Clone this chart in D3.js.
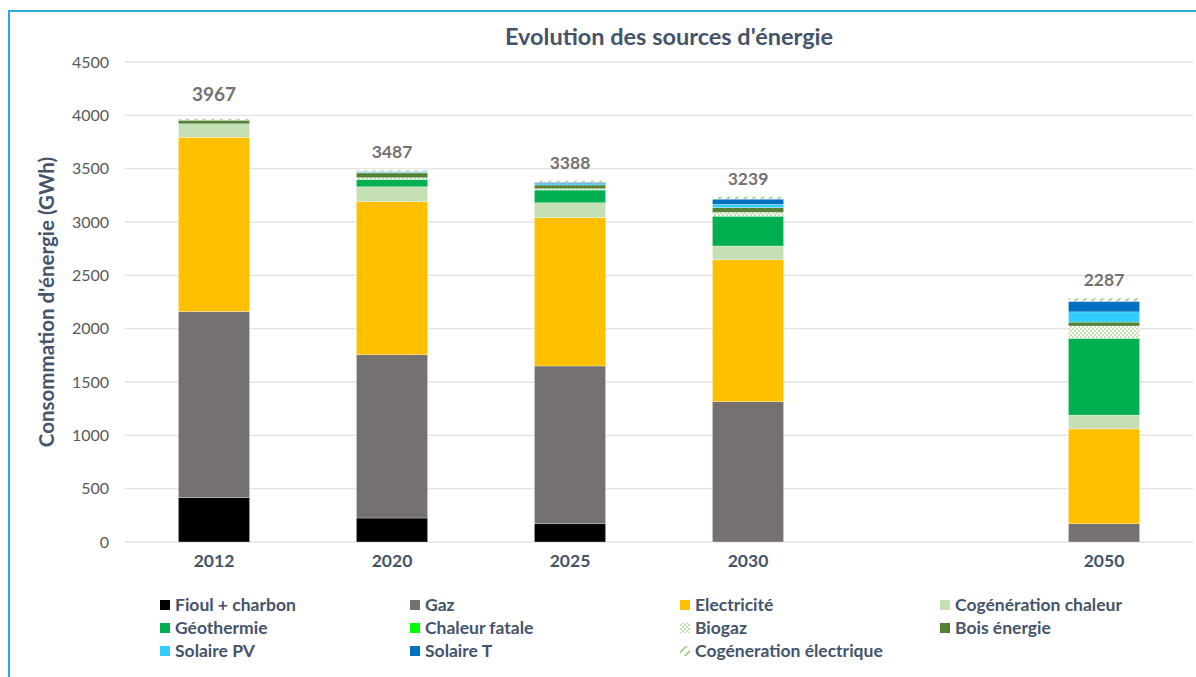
<!DOCTYPE html>
<html>
<head>
<meta charset="utf-8">
<script src="https://cdn.jsdelivr.net/npm/d3@7"></script>
<style>
  body { margin: 0; background: #fff; }
  svg { display: block; font-family: Lato, "Noto Sans", sans-serif; }
</style>
</head>
<body>
<div id="chart"></div>
<script>
// years shown, plus an empty slot between 2030 and 2050
const years = ["2012", "2020", "2025", "2030", "2050"]
const slots = ["2012", "2020", "2025", "2030", "gap", "2050"]

// GWh per source, one value per year
const fioul         = [415, 225, 170, 0, 0]
const gaz           = [1745, 1530, 1480, 1315, 170]
const electricite   = [1635, 1435, 1390, 1330, 890]
const cogenChaleur  = [125, 140, 140, 130, 130]
const geothermie    = [0, 70, 120, 280, 720]
const chaleurFatale = [0, 0, 0, 0, 0]
const biogaz        = [0, 15, 12, 35, 115]
const boisEnergie   = [35, 45, 35, 45, 37]
const solairePV     = [0, 8, 12, 30, 95]
const solaireT      = [0, 7, 14, 50, 100]
const cogenElec     = [12, 12, 15, 24, 30]

const yTicks = [0, 500, 1000, 1500, 2000, 2500, 3000, 3500, 4000, 4500]

const series = [
  { name: "Fioul + charbon", values: fioul, fill: "#000000" },
  { name: "Gaz", values: gaz, fill: "#767171" },
  { name: "Electricité", values: electricite, fill: "#FFC000" },
  { name: "Cogénération chaleur", values: cogenChaleur, fill: "#C5E0B4" },
  { name: "Géothermie", values: geothermie, fill: "#00B050" },
  { name: "Chaleur fatale", values: chaleurFatale, fill: "#00FF00" },
  { name: "Biogaz", values: biogaz, fill: "url(#dots)" },
  { name: "Bois énergie", values: boisEnergie, fill: "#548235" },
  { name: "Solaire PV", values: solairePV, fill: "#33CCFF" },
  { name: "Solaire T", values: solaireT, fill: "#0070C0" },
  { name: "Cogéneration électrique", values: cogenElec, fill: "url(#hatch)" }
]

const width = 1196
const height = 677
const margin = { left: 125, right: 3, top: 62, bottom: 135 }

const svg = d3.select("#chart").append("svg")
  .attr("width", width)
  .attr("height", height)

// patterns for Biogaz and Cogéneration électrique
const defs = svg.append("defs")
const dots = defs.append("pattern")
  .attr("id", "dots")
  .attr("patternUnits", "userSpaceOnUse")
  .attr("width", 4).attr("height", 4)
dots.append("rect").attr("width", 4).attr("height", 4).attr("fill", "#fff")
dots.append("circle").attr("cx", 1).attr("cy", 1).attr("r", 0.9).attr("fill", "#A9D18E")
dots.append("circle").attr("cx", 3).attr("cy", 3).attr("r", 0.9).attr("fill", "#A9D18E")

const hatch = defs.append("pattern")
  .attr("id", "hatch")
  .attr("patternUnits", "userSpaceOnUse")
  .attr("width", 6).attr("height", 6)
  .attr("patternTransform", "rotate(45)")
hatch.append("rect").attr("width", 6).attr("height", 6).attr("fill", "#fff")
hatch.append("rect").attr("width", 2).attr("height", 6).attr("fill", "#A9D18E")

// outer frame (only top and left visible)
svg.append("path")
  .attr("d", `M9,${height + 5}V11H${width + 5}`)
  .attr("fill", "none")
  .attr("stroke", "#29ABE2")
  .attr("stroke-width", 2)

const x = d3.scaleBand()
  .domain(slots)
  .range([margin.left, width - margin.right])
  .paddingInner(0.6)
  .paddingOuter(0.3)

const y = d3.scaleLinear()
  .domain([0, 4500])
  .range([height - margin.bottom, margin.top])

// gridlines
svg.append("g")
  .selectAll("line")
  .data(yTicks)
  .enter().append("line")
  .attr("x1", margin.left)
  .attr("x2", width - margin.right)
  .attr("y1", d => y(d))
  .attr("y2", d => y(d))
  .attr("stroke", "#E3E3E3")
  .attr("stroke-width", 1.3)

// y axis labels
const yAxis = d3.axisLeft(y).tickValues(yTicks).tickSize(0).tickPadding(16)
  .tickFormat(d3.format("d"))
svg.append("g")
  .attr("transform", `translate(${margin.left},0)`)
  .call(yAxis)
  .call(g => g.select(".domain").remove())
  .call(g => g.selectAll("text")
    .attr("fill", "#595959")
    .style("font-size", "16px")
    .style("font-family", "Lato, 'Noto Sans', sans-serif"))

// x axis labels
const xAxis = d3.axisBottom(x).tickSize(0).tickPadding(13)
  .tickFormat(d => d === "gap" ? "" : d)
svg.append("g")
  .attr("transform", `translate(0,${height - margin.bottom})`)
  .call(xAxis)
  .call(g => g.select(".domain").remove())
  .call(g => g.selectAll("text")
    .attr("fill", "#44546A")
    .style("font-size", "17.5px")
    .style("font-weight", "bold")
    .style("font-family", "Lato, 'Noto Sans', sans-serif"))

// stacked bars
const rows = years.map((yr, i) => {
  const row = { year: yr }
  series.forEach(s => { row[s.name] = s.values[i] })
  return row
})
const stack = d3.stack().keys(series.map(s => s.name))(rows)

svg.append("g")
  .selectAll("g")
  .data(stack)
  .enter().append("g")
  .attr("fill", (d, i) => series[i].fill)
  .selectAll("rect")
  .data(d => d.filter(p => p[1] > p[0]))
  .enter().append("rect")
  .attr("x", d => x(d.data.year))
  .attr("width", x.bandwidth())
  .attr("y", d => y(d[1]))
  .attr("height", d => y(d[0]) - y(d[1]))
  .attr("stroke", "#fff")
  .attr("stroke-width", 0.3)

// totals
const totals = years.map((yr, i) => ({ year: yr, total: d3.sum(series, s => s.values[i]) }))
svg.append("g")
  .selectAll("text")
  .data(totals)
  .enter().append("text")
  .attr("x", d => x(d.year) + x.bandwidth() / 2)
  .attr("y", d => y(d.total) - (d.year === "2012" ? 18 : 12))
  .attr("text-anchor", "middle")
  .attr("fill", "#767171")
  .style("font-weight", "bold")
  .style("font-size", d => d.year === "2012" ? "19px" : "17.5px")
  .text(d => d.total)

// title
svg.append("text")
  .attr("x", 669)
  .attr("y", 45)
  .attr("text-anchor", "middle")
  .attr("fill", "#44546A")
  .style("font-weight", "bold")
  .style("font-size", "23.5px")
  .text("Evolution des sources d'énergie")

// y axis title
svg.append("text")
  .attr("transform", `translate(54,${y(2250)}) rotate(-90)`)
  .attr("text-anchor", "middle")
  .attr("fill", "#44546A")
  .style("font-weight", "bold")
  .style("font-size", "20.5px")
  .text("Consommation d'énergie (GWh)")

// legend, 4 columns
const legendCols = [160, 410, 680, 940]
const legend = svg.append("g")
  .selectAll("g")
  .data(series)
  .enter().append("g")
  .attr("transform", (d, i) => `translate(${legendCols[i % 4]},${605 + Math.floor(i / 4) * 23})`)

legend.append("rect")
  .attr("x", 0)
  .attr("y", -5)
  .attr("width", 10)
  .attr("height", 10)
  .attr("fill", d => d.fill)

legend.append("text")
  .attr("x", 15)
  .attr("y", 0)
  .attr("dy", "0.35em")
  .attr("fill", "#44546A")
  .style("font-weight", "bold")
  .style("font-size", "17.5px")
  .text(d => d.name)
</script>
</body>
</html>
